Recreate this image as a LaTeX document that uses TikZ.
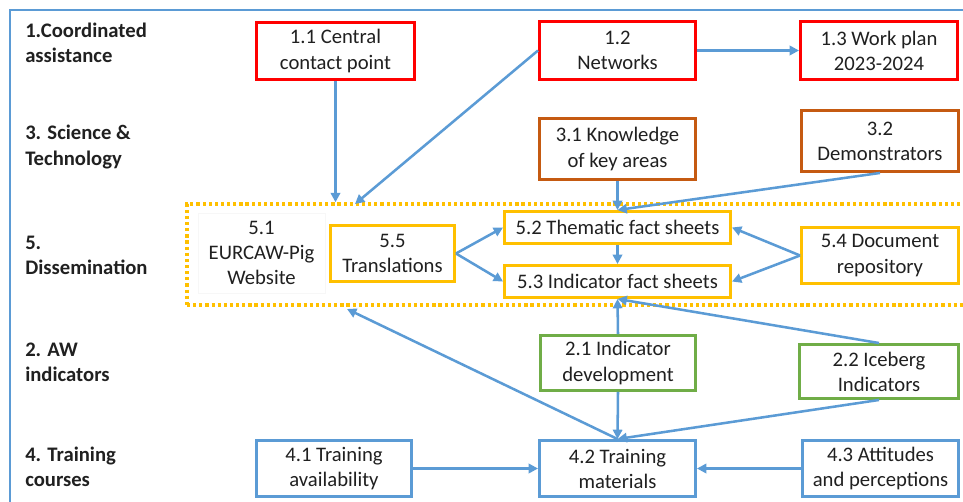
\documentclass[tikz,border=0pt]{standalone}
\usepackage{fontspec}
\setmainfont{Carlito}
\usetikzlibrary{arrows.meta}
\definecolor{cblue}{HTML}{5B9BD5}
\definecolor{cred}{HTML}{FF0000}
\definecolor{cbrown}{HTML}{C55A11}
\definecolor{cgold}{HTML}{FFC000}
\definecolor{cgreen}{HTML}{70AD47}
\definecolor{ctext}{HTML}{202020}
\newcommand{\mainsize}{\fontsize{15.5pt}{18.8pt}\selectfont}
\tikzset{
  box/.style 2 args={draw, line width=2.2pt, fill=white, align=center, inner sep=0pt,
    minimum width=#1*0.75pt, minimum height=#2*0.75pt, text=ctext},
  redbox/.style={draw=cred},
  brownbox/.style={draw=cbrown},
  goldbox/.style={draw=cgold},
  greenbox/.style={draw=cgreen},
  bluebox/.style={draw=cblue},
  rowlabel/.style={anchor=west, align=left, inner sep=0pt, font=\mainsize\bfseries, text=ctext},
  arr/.style={draw=cblue, line width=1.9pt, -{Triangle[length=7pt,width=7pt]}},
  dotbox/.style={draw=cgold, line width=2.6pt, dash pattern=on 2.4pt off 2.2pt, inner sep=0pt},
}
\begin{document}
\begin{tikzpicture}[x=0.75pt,y=-0.75pt,font=\mainsize]
\useasboundingbox (0,0) rectangle (963,502);
\clip (0,0) rectangle (963,502);
\draw[cblue, line width=1.2pt] (10,10) rectangle (990,530);

% dissemination dotted frame
\node[dotbox, minimum width=793*0.75pt, minimum height=101*0.75pt] (dis) at (583.5,254.5) {};

% row labels
\node[rowlabel] (l1) at (25,43) {1.Coordinated\\assistance};
\node[rowlabel] (l3) at (25,147) {3. Science \&\\Technology};
\node[rowlabel] (l5) at (25,255) {5.\\Dissemination};
\node[rowlabel] (l2) at (25,362) {2. AW\\indicators};
\node[rowlabel] (l4) at (25,467) {4. Training\\courses};

% boxes
\node[box={158}{57}, redbox] (n11) at (335.5,51) {1.1 Central\\contact point};
\node[box={156}{58}, redbox] (n12) at (617.5,50.5) {1.2\\Networks};
\node[box={157}{58}, redbox] (n13) at (879,50.5) {1.3 Work plan\\2023-2024};
\node[box={156}{61}, brownbox] (n31) at (617.5,149) {3.1 Knowledge\\of key areas};
\node[box={157}{61}, brownbox] (n32) at (880,141) {3.2\\Demonstrators};
\node[box={226}{32}, goldbox] (n52) at (617.5,227.5) {5.2 Thematic fact sheets};
\node[box={226}{32}, goldbox] (n53) at (617.5,281.5) {5.3 Indicator fact sheets};
\node[box={157}{56}, goldbox] (n54) at (880,255.5) {5.4 Document\\repository};
\node[box={124}{56}, goldbox] (n55) at (392.5,253.5) {5.5\\Translations};
\node[draw=black!3, line width=0.5pt, fill=white, align=center, inner sep=0pt,
  minimum width=127*0.75pt, minimum height=80*0.75pt, text=ctext] (n51) at (261.5,253) {5.1\\EURCAW-Pig\\Website};
\node[box={155}{55}, greenbox] (n21) at (618,363) {2.1 Indicator\\development};
\node[box={159}{54}, greenbox] (n22) at (879,371.5) {2.2 Iceberg\\Indicators};
\node[box={155}{56}, bluebox] (n41) at (334,468.5) {4.1 Training\\availability};
\node[box={156}{56}, bluebox] (n42) at (617.5,468.5) {4.2 Training\\materials};
\node[box={156}{56}, bluebox] (n43) at (880.5,468.5) {4.3 Attitudes\\and perceptions};

\coordinate (d1) at (355,204);
\coordinate (d2) at (347,309);

% connectors
\draw[arr] (n11.south) -- (n11.south |- dis.north);
\draw[arr] (n12.west) -- (d1);
\draw[arr] (n12.east) -- (n13.west);
\draw[arr] (n31.south) -- (n52.north);
\draw[arr] (n32.south) -- (n52.north);
\draw[arr] (n55.east) -- (n52.west);
\draw[arr] (n55.east) -- (n53.west);
\draw[arr] (n54.west) -- (n52.east);
\draw[arr] (n54.west) -- (n53.east);
\draw[arr] (n52.south) -- (n53.north);
\draw[arr] (n21.north) -- (n53.south);
\draw[arr] (n22.north) -- (n53.south);
\draw[arr] (n21.south) -- (n42.north);
\draw[arr] (n22.south) -- (n42.north);
\draw[arr] (n42.north) -- (d2);
\draw[arr] (n41.east) -- (n42.west);
\draw[arr] (n43.west) -- (n42.east);
\end{tikzpicture}
\end{document}
